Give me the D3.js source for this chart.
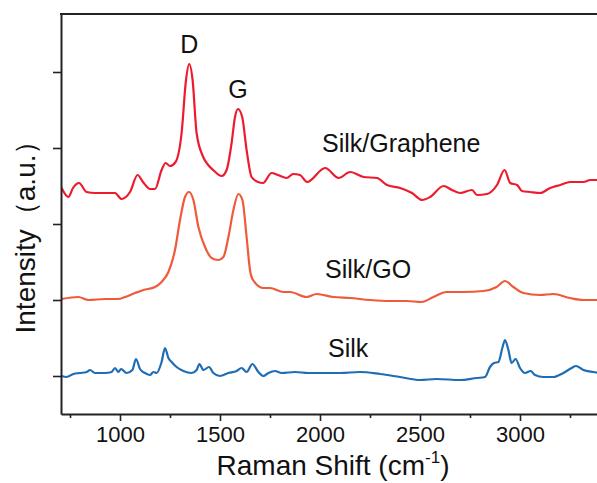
<!DOCTYPE html>
<html>
<head>
<meta charset="utf-8">
<script src="https://cdn.jsdelivr.net/npm/d3@7"></script>
<style>
  body { margin: 0; background: #fff; }
  text { font-family: "Liberation Sans", Arial, sans-serif; fill: #111; }
</style>
</head>
<body>
<svg id="chart" width="597" height="483"></svg>
<script>
// spectra: [raman shift cm-1, intensity a.u. (offset already in)]
var silkGraphene = [
  [708,226],[742,217],[765,226],[795,231],[833,222],[875,221],[925,221],[975,221],[1008,215],
  [1050,222],[1088,239],[1115,232],[1150,225],[1175,225],[1208,244],[1228,251],[1250,248],
  [1278,252],[1308,281],[1330,334],[1346,350],[1363,334],[1383,281],[1416,257],[1441,249],
  [1466,244],[1508,238],[1533,244],[1558,271],[1575,297],[1590,305],[1611,297],[1633,264],
  [1658,237],[1690,232],[1715,231],[1758,241],[1790,239],[1833,236],[1866,240],[1900,239],
  [1935,232],[2026,246],[2093,236],[2151,242],[2218,237],[2285,236],[2335,229],[2401,226],
  [2460,221],[2510,214],[2551,217],[2618,228],[2660,224],[2701,221],[2760,224],[2785,219],
  [2835,220],[2885,229],[2923,244],[2951,231],[2985,229],[3010,223],[3051,222],[3101,221],
  [3151,226],[3201,229],[3251,232],[3318,232],[3351,234],[3400,234]
];

var silkGO = [
  [708,115],[792,117],[842,114],[925,115],[990,115],[1025,117],[1075,121],[1117,124],
  [1175,127],[1208,132],[1242,142],[1275,164],[1300,194],[1325,217],[1345,222],[1367,214],
  [1392,187],[1425,167],[1458,156],[1492,154],[1517,157],[1542,177],[1567,204],[1592,220],
  [1612,214],[1633,177],[1650,144],[1665,134],[1717,126],[1750,126],[1817,122],[1850,122],
  [1933,117],[1983,120],[2067,117],[2150,116],[2250,114],[2350,113],[2433,113],[2508,112],
  [2567,117],[2633,122],[2717,122],[2817,123],[2883,127],[2925,133],[2967,127],[3017,121],
  [3100,119],[3167,120],[3250,116],[3317,114],[3400,114]
];

var silk = [
  [708,38],[733,37],[767,40],[800,41],[833,42],[850,44],[875,41],[925,41],[958,42],[975,46],
  [992,42],[1005,45],[1033,41],[1062,44],[1080,55],[1100,45],[1125,41],[1150,39],[1167,42],
  [1183,41],[1208,52],[1225,66],[1242,56],[1258,52],[1283,47],[1317,43],[1358,41],[1383,44],
  [1397,50],[1417,44],[1445,47],[1467,41],[1500,38],[1542,41],[1583,43],[1608,46],[1633,42],
  [1662,50],[1692,42],[1717,38],[1742,41],[1775,43],[1808,41],[1875,42],[1942,41],[2008,41],
  [2100,41],[2200,42],[2300,40],[2400,37],[2500,34],[2583,35],[2700,34],[2783,36],[2825,37],
  [2850,47],[2870,51],[2892,52],[2913,67],[2925,74],[2942,64],[2958,51],[2978,55],[3000,46],
  [3025,41],[3053,43],[3075,39],[3117,37],[3167,37],[3217,41],[3258,46],[3280,48],[3317,44],
  [3367,42],[3400,41]
];

var seriesNames = ["Silk/Graphene", "Silk/GO", "Silk"];
var seriesColors = ["#ec1c2e", "#ef5a3a", "#1f6db5"];
var xTicks = [1000, 1500, 2000, 2500, 3000];
var xMinorTicks = [750, 1250, 1750, 2250, 2750, 3250];
var yTicks = [38, 114, 190, 266, 342];
var peakLabels = [["D", 1346, 350], ["G", 1590, 305]];

var svg = d3.select("#chart");
// plot box (top/right names clash with window globals, so m* names)
var mLeft = 61, mRight = 600, mTop = 14, mBottom = 414;

var x = d3.scaleLinear().domain([705, 3400]).range([mLeft, mRight]);
var y = d3.scaleLinear().domain([0, 400]).range([mBottom, mTop]);

var line = d3.line()
  .x(d => x(d[0]))
  .y(d => y(d[1]))
  .curve(d3.curveMonotoneX);

svg.append("defs").append("clipPath").attr("id", "clip")
  .append("rect").attr("x", mLeft).attr("y", mTop)
  .attr("width", mRight - mLeft).attr("height", mBottom - mTop);

var data = [silkGraphene, silkGO, silk];
svg.append("g").attr("clip-path", "url(#clip)")
  .selectAll("path")
  .data(data)
  .enter()
  .append("path")
  .attr("d", line)
  .attr("fill", "none")
  .attr("stroke", (d, i) => seriesColors[i])
  .attr("stroke-width", 2.2)
  .attr("stroke-linejoin", "round");

// axes
var xAxis = svg.append("g").attr("transform", "translate(0," + mBottom + ")")
  .call(d3.axisBottom(x).tickValues(xTicks).tickFormat(d3.format("d"))
    .tickSize(7).tickSizeOuter(0).tickPadding(5));
xAxis.selectAll("text").style("font-size", "22px").attr("fill", "#111");

var xMinor = svg.append("g").attr("transform", "translate(0," + mBottom + ")")
  .call(d3.axisBottom(x).tickValues(xMinorTicks).tickSize(4).tickFormat(""));
xMinor.select(".domain").remove();

var yAxis = svg.append("g").attr("transform", "translate(" + mLeft + ",0)")
  .call(d3.axisLeft(y).tickValues(yTicks).tickSize(8).tickSizeOuter(0).tickFormat(""));

svg.selectAll(".domain").attr("stroke", "#222").attr("stroke-width", 2);
svg.selectAll(".tick line").attr("stroke", "#222").attr("stroke-width", 1.6);

// top border
svg.append("line")
  .attr("x1", mLeft - 1).attr("x2", 597)
  .attr("y1", mTop).attr("y2", mTop)
  .attr("stroke", "#222").attr("stroke-width", 2);

// series labels
var labelPos = [[322, 152], [325, 278], [328, 357]];
svg.selectAll(".slabel")
  .data(seriesNames)
  .enter()
  .append("text")
  .attr("class", "slabel")
  .attr("x", (d, i) => labelPos[i][0])
  .attr("y", (d, i) => labelPos[i][1])
  .style("font-size", "25px")
  .text(d => d);

// peak labels
svg.selectAll(".plabel")
  .data(peakLabels)
  .enter()
  .append("text")
  .attr("class", "plabel")
  .attr("x", d => x(d[1]))
  .attr("y", d => y(d[2]) - 11)
  .attr("text-anchor", "middle")
  .style("font-size", "25px")
  .text(d => d[0]);

// axis titles
var xt = svg.append("text")
  .attr("x", 333).attr("y", 475)
  .attr("text-anchor", "middle")
  .style("font-size", "28px");
xt.append("tspan").text("Raman Shift (cm");
xt.append("tspan").attr("dy", -12).style("font-size", "17px").text("-1");
xt.append("tspan").attr("dy", 12).text(")");

svg.append("text")
  .attr("transform", "translate(35,230) rotate(-90)")
  .attr("text-anchor", "middle")
  .style("font-size", "28px")
  .text("Intensity（a.u.）");
</script>
</body>
</html>
